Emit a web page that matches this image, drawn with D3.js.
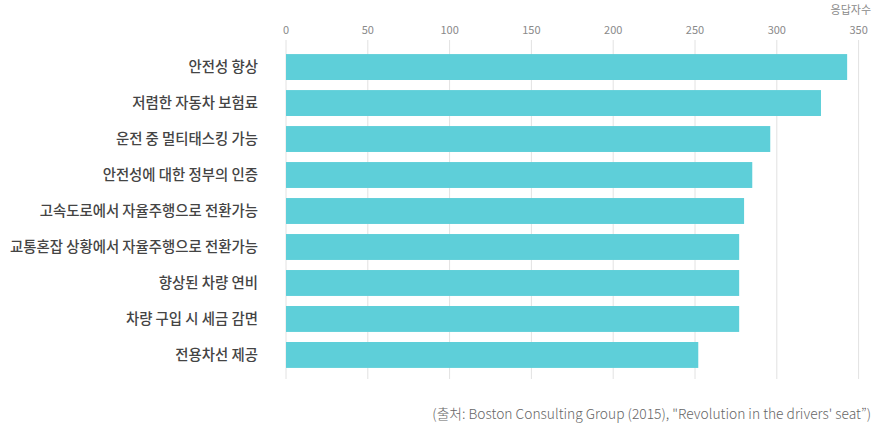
<!DOCTYPE html>
<html>
<head>
<meta charset="utf-8">
<script src="https://cdn.jsdelivr.net/npm/d3@7"></script>
<style>
  body { margin: 0; background: #fff; }
  text { font-family: "Noto Sans CJK KR", "Noto Sans", sans-serif; }
</style>
</head>
<body>
<svg id="canvas" width="879" height="436"></svg>
<script>
// data
let categories = ['안전성 향상', '저렴한 자동차 보험료', '운전 중 멀티태스킹 가능', '안전성에 대한 정부의 인증',
                  '고속도로에서 자율주행으로 전환가능', '교통혼잡 상황에서 자율주행으로 전환가능',
                  '향상된 차량 연비', '차량 구입 시 세금 감면', '전용차선 제공']
let values = [343, 327, 296, 285, 280, 277, 277, 277, 252]
let tickValues = [0, 50, 100, 150, 200, 250, 300, 350]
let unitLabel = '응답자수'
let sourceText = '(출처: Boston Consulting Group (2015), "Revolution in the drivers\' seat”)'

let canvas = d3.select('#canvas')

let x = d3.scaleLinear().domain([0, 350]).range([286, 858.6])
let y = d3.scaleBand().domain(categories).range([44, 378])
            .paddingInner(0.28).paddingOuter(0.28)

// gridlines
canvas.selectAll('.grid')
    .data(tickValues)
    .enter()
    .append('line')
    .attr('x1', d => x(d)).attr('x2', d => x(d))
    .attr('y1', 40).attr('y2', 379)
    .attr('stroke', '#e2e2e2')
    .attr('stroke-width', 1)

// tick labels
canvas.selectAll('.tick')
    .data(tickValues)
    .enter()
    .append('text')
    .attr('x', d => x(d))
    .attr('y', 34)
    .attr('text-anchor', 'middle')
    .attr('font-size', 11)
    .attr('fill', '#8a8a8a')
    .text(d => d)

canvas.append('text')
    .attr('x', 871).attr('y', 14)
    .attr('text-anchor', 'end')
    .attr('font-size', 11)
    .attr('fill', '#8a8a8a')
    .text(unitLabel)

// bars
canvas.selectAll('.bar')
    .data(values)
    .enter()
    .append('rect')
    .attr('x', x(0))
    .attr('y', (d, i) => y(categories[i]))
    .attr('width', d => x(d) - x(0))
    .attr('height', y.bandwidth())
    .attr('fill', '#5ecfd9')

// category labels
canvas.selectAll('.cat')
    .data(categories)
    .enter()
    .append('text')
    .attr('x', 258)
    .attr('y', d => y(d) + y.bandwidth() / 2)
    .attr('dy', '0.35em')
    .attr('text-anchor', 'end')
    .attr('font-size', 14.4)
    .attr('font-weight', 500)
    .attr('fill', '#444')
    .text(d => d)

canvas.append('text')
    .attr('x', 871).attr('y', 419)
    .attr('text-anchor', 'end')
    .attr('font-size', 13.8)
    .attr('font-weight', 300)
    .attr('fill', '#666')
    .text(sourceText)
</script>
</body>
</html>
